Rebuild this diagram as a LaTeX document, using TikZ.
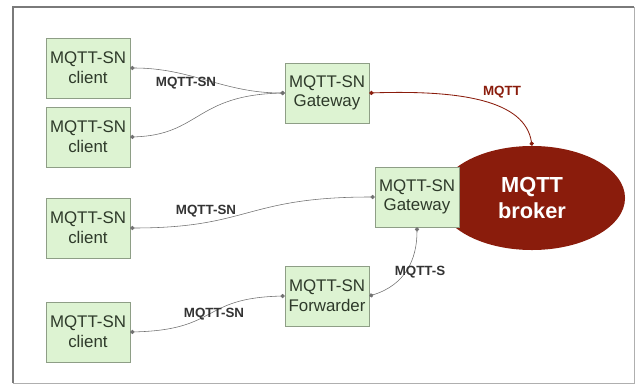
\documentclass[tikz,border=0pt]{standalone}
\usepackage{fontspec}
\setmainfont{Liberation Sans}
\usepackage{tikz}
\usetikzlibrary{shapes.geometric,positioning,arrows.meta}
\definecolor{boxfill}{HTML}{DDF3D2}
\definecolor{boxline}{HTML}{8E9E86}
\definecolor{boxtext}{HTML}{2E3A2A}
\definecolor{brokerred}{HTML}{8A1C0C}
\definecolor{wire}{HTML}{707070}
\definecolor{frame}{HTML}{7A7A7A}

\begin{document}
\begin{tikzpicture}[x=0.025cm,y=-0.025cm,
 font=\fontsize{12}{14}\selectfont,
 sn/.style={draw=boxline,fill=boxfill,text=boxtext,minimum height=1.5cm,minimum width=2.1cm,align=center,inner sep=1pt},
 br/.style={ellipse,fill=brokerred,text=white,font=\fontsize{15.5}{18}\selectfont\bfseries,minimum width=4.65cm,minimum height=2.6cm,align=center},
 ln/.style={{Circle[length=3pt]}-{Circle[length=3pt]},wire,thin},
 red ln/.style={ln,brokerred,semithick},
 lbl/.style={font=\fontsize{9.5}{10}\selectfont\bfseries,text=black!80,inner sep=1pt}]
\useasboundingbox (0,0) rectangle (637,385);
% frame
\draw[frame!60,thin] (634,7) -- (634,383) -- (13,383);
\draw[frame,line width=1.6pt] (13,383) -- (13,7) -- (634,7);
% broker sits behind the lower gateway
\node[br] (brk) at (532,198) {MQTT\\broker};
\node[sn] (cl1) at (88,68) {MQTT-SN\\client};
\node[sn] (cl2) at (88,137) {MQTT-SN\\client};
\node[sn] (cl3) at (88,228) {MQTT-SN\\client};
\node[sn] (cl4) at (88,332) {MQTT-SN\\client};
\node[sn] (gw1) at (327,93) {MQTT-SN\\Gateway};
\node[sn] (gw2) at (417,197) {MQTT-SN\\Gateway};
\node[sn] (fw) at (327,296) {MQTT-SN\\Forwarder};
% links
\draw[ln] (cl1.east) to[out=0,in=180] (gw1.west);
\draw[ln] (cl2.east) .. controls (200,135) and (195,95) .. (gw1.west);
\draw[ln] (cl3.east) .. controls (250,228) and (245,197) .. (gw2.west);
\draw[ln] (cl4.east) .. controls (220,330) and (200,298) .. (fw.west);
\draw[ln] (fw.east) .. controls (405,285) and (417,260) .. (gw2.south);
\draw[red ln] (gw1.east) .. controls (460,90) and (525,100) .. (brk.north);
% labels
\node[lbl] (l1) at (186,83) {MQTT-SN};
\node[lbl] (l2) at (206,211) {MQTT-SN};
\node[lbl] (l3) at (214,314) {MQTT-SN};
\node[lbl] (l4) at (420,272) {MQTT-S};
\node[lbl,text=brokerred] (l5) at (502,92) {MQTT};
\end{tikzpicture}
\end{document}
